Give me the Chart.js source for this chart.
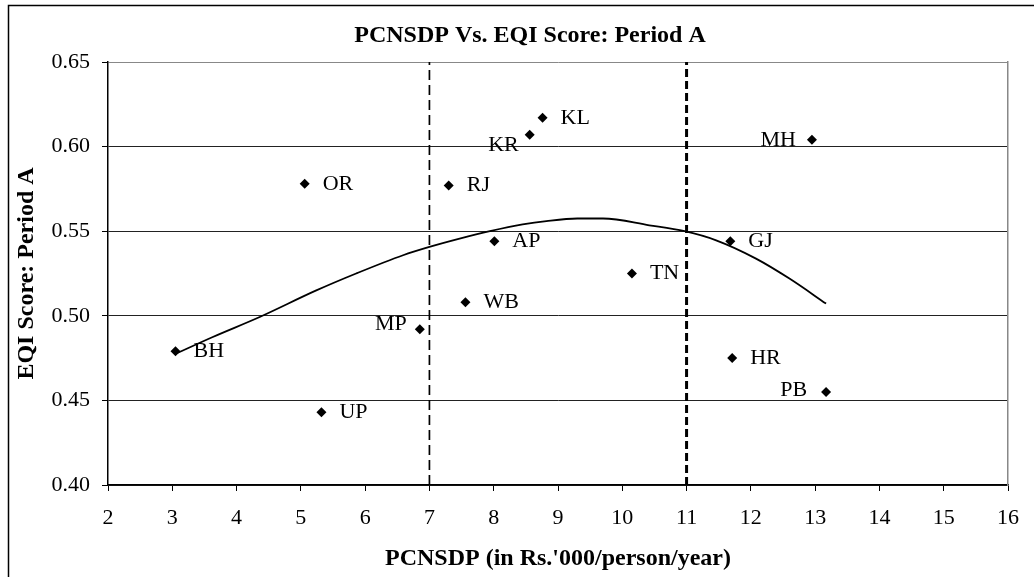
<!DOCTYPE html>
<html>
<head>
<meta charset="utf-8">
<script src="https://cdn.jsdelivr.net/npm/chart.js@4.4.1/dist/chart.umd.min.js"></script>
<style>
  html, body { margin: 0; padding: 0; background: #fff; }
  canvas { display: block; }
</style>
</head>
<body>
<canvas id="chart" width="1034" height="577"></canvas>
<script>
// states and their values
const states = ['OR', 'RJ', 'AP', 'KR', 'KL', 'MH', 'GJ', 'TN', 'WB', 'MP', 'BH', 'UP', 'HR', 'PB'];
const pcnsdp = [5.06, 7.30, 8.01, 8.56, 8.76, 12.95, 11.68, 10.15, 7.56, 6.85, 3.05, 5.32, 11.71, 13.17];
const eqiScore = [0.578, 0.577, 0.544, 0.607, 0.617, 0.604, 0.544, 0.525, 0.508, 0.492, 0.479, 0.443, 0.475, 0.455];

// trend curve, read point by point
const trendX = [3.06, 3.63, 4.36, 5.24, 5.86, 6.59, 7.00, 7.47, 7.94, 8.45, 8.82, 9.30, 9.70, 10.42, 10.97, 11.46, 12.08, 12.60, 13.17];
const trendY = [0.4777, 0.4875, 0.4993, 0.515, 0.525, 0.5358, 0.5407, 0.5456, 0.550, 0.554, 0.556, 0.5575, 0.5575, 0.5535, 0.550, 0.5446, 0.5338, 0.522, 0.5072];

// vertical cut-off lines
const cutoffs = [7, 11];

const FONT = '"Liberation Serif", "Times New Roman", serif';

// label placement (style only)
const labelOffsets = {
  KR: { dx: -11, dy: 10, align: 'right' },
  MH: { dx: -16, dy: 0, align: 'right' },
  PB: { dx: -19, dy: -2, align: 'right' },
  MP: { dx: -13, dy: -5, align: 'right' }
};
const cutoffStyles = [
  { dash: [10, 5], width: 1.7 },
  { dash: [8, 4], width: 3 }
];

const framePlugin = {
  id: 'frame',
  beforeDraw(chart) {
    const ctx = chart.ctx;
    ctx.save();
    ctx.fillStyle = '#fff';
    ctx.fillRect(0, 0, chart.width, chart.height);
    ctx.strokeStyle = '#000';
    ctx.lineWidth = 1.5;
    ctx.beginPath();
    ctx.moveTo(8.5, chart.height);
    ctx.lineTo(8.5, 5.5);
    ctx.lineTo(chart.width, 5.5);
    ctx.stroke();
    ctx.restore();
  }
};

const labelPlugin = {
  id: 'stateLabels',
  afterDatasetsDraw(chart) {
    const ctx = chart.ctx;
    const meta = chart.getDatasetMeta(0);
    ctx.save();
    ctx.font = '22px ' + FONT;
    ctx.fillStyle = '#000';
    ctx.textBaseline = 'middle';
    meta.data.forEach((pt, i) => {
      const o = labelOffsets[states[i]] || { dx: 18, dy: 0, align: 'left' };
      ctx.textAlign = o.align;
      ctx.fillText(states[i], pt.x + o.dx, pt.y + o.dy);
    });
    ctx.restore();
  }
};

const datasets = [
  {
    type: 'scatter',
    data: pcnsdp.map((x, i) => ({ x: x, y: eqiScore[i] })),
    pointStyle: 'rectRot',
    pointRadius: 5,
    backgroundColor: '#000',
    borderColor: '#000',
    borderWidth: 0,
    order: 0
  },
  {
    type: 'line',
    data: trendX.map((x, i) => ({ x: x, y: trendY[i] })),
    borderColor: '#000',
    borderWidth: 1.8,
    pointRadius: 0,
    cubicInterpolationMode: 'monotone',
    fill: false,
    order: 1
  }
];

cutoffs.forEach((c, i) => {
  datasets.push({
    type: 'line',
    data: [{ x: c, y: 0.40 }, { x: c, y: 0.65 }],
    borderColor: '#000',
    borderWidth: cutoffStyles[i].width,
    borderDash: cutoffStyles[i].dash,
    pointRadius: 0,
    fill: false,
    order: 2
  });
});

new Chart(document.getElementById('chart'), {
  data: { datasets: datasets },
  options: {
    responsive: false,
    animation: false,
    layout: { padding: { left: 26, right: 0, top: 0, bottom: 0 } },
    plugins: {
      legend: { display: false },
      tooltip: { enabled: false },
      title: {
        display: true,
        text: 'PCNSDP Vs. EQI Score: Period A',
        color: '#000',
        font: { family: FONT, size: 24, weight: 'bold' },
        padding: { top: 21, bottom: 12.2 }
      }
    },
    scales: {
      x: {
        type: 'linear',
        position: 'bottom',
        min: 2,
        max: 16,
        ticks: {
          stepSize: 1,
          color: '#000',
          padding: 14,
          font: { family: FONT, size: 22 }
        },
        grid: { drawOnChartArea: false, tickLength: 6, tickColor: '#000', lineWidth: 1 },
        border: { color: '#000', width: 1.5 },
        title: {
          display: true,
          text: "PCNSDP (in Rs.'000/person/year)",
          color: '#000',
          font: { family: FONT, size: 24, weight: 'bold' },
          padding: { top: 0, bottom: 4 }
        },
        afterFit(scale) { scale.height = 92; }
      },
      y: {
        type: 'linear',
        position: 'left',
        min: 0.40,
        max: 0.65,
        ticks: {
          stepSize: 0.05,
          color: '#000',
          padding: 12,
          font: { family: FONT, size: 22 },
          callback: (v) => v.toFixed(2)
        },
        grid: {
          tickLength: 6,
          tickColor: '#000',
          lineWidth: 1,
          color: (c) => (c.tick && Math.abs(c.tick.value - 0.65) < 1e-6 ? '#888' : '#222')
        },
        border: { color: '#000', width: 1.5 },
        title: {
          display: true,
          text: 'EQI Score: Period A',
          color: '#000',
          font: { family: FONT, size: 24, weight: 'bold' },
          padding: { top: -14, bottom: 0 }
        },
        afterFit(scale) { scale.width = 82; }
      },
      yRight: {
        type: 'linear',
        position: 'right',
        display: true,
        ticks: { display: false },
        grid: { drawOnChartArea: false, drawTicks: false },
        border: { color: '#888', width: 1.5 },
        afterFit(scale) { scale.width = 26; }
      }
    }
  },
  plugins: [framePlugin, labelPlugin]
});
</script>
</body>
</html>
